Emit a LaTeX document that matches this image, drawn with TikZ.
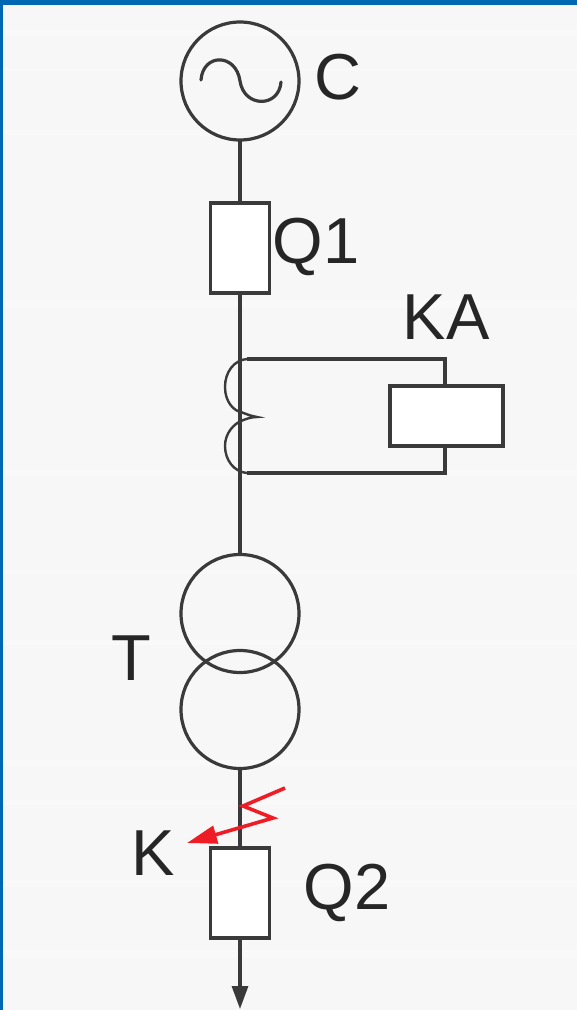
\documentclass[tikz,border=0pt]{standalone}
\usepackage{fontspec}
\setmainfont{Liberation Sans}
\usetikzlibrary{arrows.meta}
\definecolor{frameblue}{HTML}{0067B2}
\definecolor{paper}{HTML}{F7F7F7}
\definecolor{ink}{HTML}{3A3A3A}
\definecolor{bolt}{HTML}{EE1C25}
\tikzset{
  wire/.style={draw=ink,line width=3.2pt,line join=miter},
  thin wire/.style={draw=ink,line width=2.4pt,line cap=round},
  ring/.style={circle,draw=ink,line width=3.2pt,minimum size=118pt,inner sep=0pt,outer sep=0pt},
  breaker/.style={rectangle,draw=ink,line width=3.2pt,fill=white,minimum width=59pt,minimum height=90pt,inner sep=0pt,outer sep=0pt},
  relaybox/.style={rectangle,draw=ink,line width=3.2pt,fill=white,minimum width=113pt,minimum height=60pt,inner sep=0pt,outer sep=0pt},
  lbl/.style={font=\fontsize{65}{65}\selectfont,text=black!85,inner sep=0pt,outer sep=0pt},
  band/.style={fill=white,draw=none,opacity=.3}
}
\begin{document}
\begin{tikzpicture}[x=1pt,y=-1pt]
\useasboundingbox (0,0) rectangle (577,1010);
\fill[paper] (0,0) rectangle (577,1010);
\foreach \yy/\hh in {30/6,68/3,130/5,300/8,470/6,570/4,640/5,760/6,800/5,880/7,950/8}
  \fill[band] (3,\yy) rectangle (577,\yy+\hh);
\fill[frameblue] (0,0) rectangle (577,5);
\fill[frameblue] (0,0) rectangle (3,1010);
\coordinate (endarrow) at (240,1009);
\coordinate (tapTop) at (247,359);
\coordinate (tapBot) at (247,473);
\coordinate (cornerTop) at (445,359);
\coordinate (cornerBot) at (445,473);
\coordinate (boltA) at (285,788);
\coordinate (boltB) at (243,806);
\coordinate (boltC) at (273,818);
\coordinate (boltD) at (187,843);
\node[ring] (gen) at (240,81) {};
\node[ring] (t1) at (240,613.5) {};
\node[ring] (t2) at (240,709.5) {};
\node[breaker] (q1) at (240,248) {};
\node[breaker] (q2) at (240,893) {};
\node[relaybox] (ka) at (446.5,416) {};
\draw[wire] (gen.south) -- (q1.north);
\draw[wire] (q1.south) -- (t1.north);
\draw[wire] (t2.south) -- (q2.north);
\draw[wire,-{Triangle[length=23pt,width=16pt]}] (q2.south) -- (endarrow);
\draw[wire] (tapTop) -- (cornerTop) -- (cornerTop |- ka.north);
\draw[wire] (tapBot) -- (cornerBot) -- (cornerBot |- ka.south);
\draw[thin wire] (tapTop) .. controls (234,360) and (225,372) .. (225,387)
  .. controls (225,402) and (234,411) .. (241,412)
  .. controls (246,414) and (251,416) .. (257,417)
  .. controls (251,417) and (246,419) .. (241,421)
  .. controls (234,424) and (225,433) .. (225,446)
  .. controls (225,460) and (234,472) .. (tapBot);
\draw[wire,line cap=round] (201,80) .. controls (203,53) and (236,53) .. (240,81)
  .. controls (244,108) and (279,108) .. (281,82);
\draw[draw=bolt,line width=3.6pt,line join=miter,-{Triangle[length=30pt,width=18pt]}]
  (boltA) -- (boltB) -- (boltC) -- (boltD);
\node[lbl] (lc) at (337.5,77) {C};
\node[lbl] (lq1) at (316,247) {Q1};
\node[lbl] (lka) at (446,317) {KA};
\node[lbl] (lt) at (131,658) {T};
\node[lbl] (lk) at (153,853) {K};
\node[lbl] (lq2) at (347,893) {Q2};
\end{tikzpicture}
\end{document}
